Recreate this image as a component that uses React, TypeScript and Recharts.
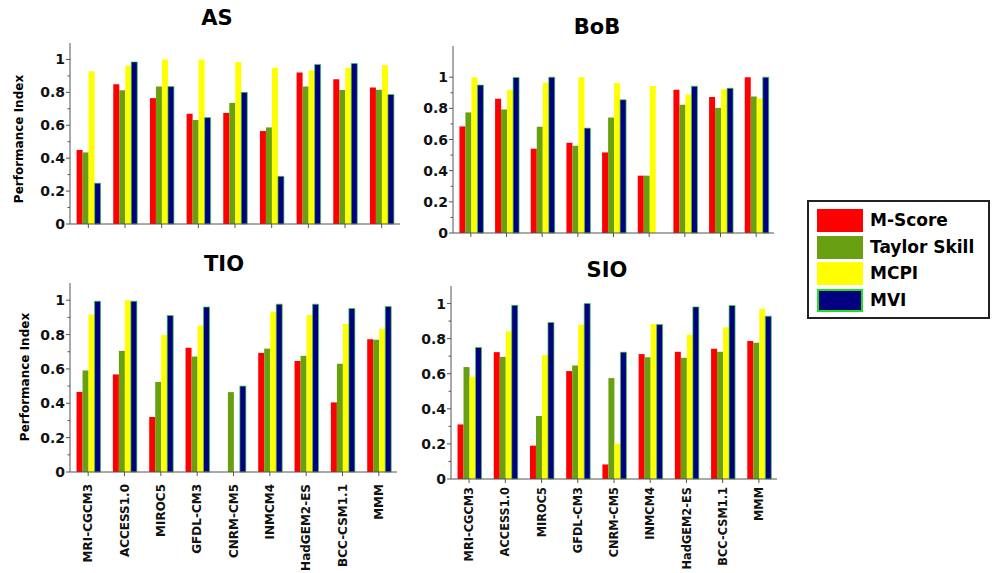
import { Bar, BarChart, XAxis, YAxis } from "recharts";

const MODELS = [
  "MRI-CGCM3",
  "ACCESS1.0",
  "MIROC5",
  "GFDL-CM3",
  "CNRM-CM5",
  "INMCM4",
  "HadGEM2-ES",
  "BCC-CSM1.1",
  "MMM",
];

const AS_MSCORE = [0.45, 0.85, 0.765, 0.67, 0.675, 0.565, 0.92, 0.88, 0.83];
const AS_TAYLOR = [0.435, 0.813, 0.835, 0.632, 0.736, 0.587, 0.836, 0.814, 0.816];
const AS_MCPI = [0.928, 0.961, 1.0, 1.0, 0.984, 0.95, 0.933, 0.949, 0.965];
const AS_MVI = [0.248, 0.985, 0.835, 0.647, 0.8, 0.29, 0.97, 0.975, 0.787];

const BOB_MSCORE = [0.684, 0.861, 0.541, 0.579, 0.517, 0.368, 0.919, 0.872, 1.0];
const BOB_TAYLOR = [0.774, 0.793, 0.682, 0.56, 0.741, 0.368, 0.823, 0.803, 0.876];
const BOB_MCPI = [1.0, 0.919, 0.964, 1.0, 0.962, 0.944, 0.889, 0.923, 0.863];
const BOB_MVI = [0.949, 0.998, 1.0, 0.673, 0.855, null, 0.942, 0.929, 1.0];

const TIO_MSCORE = [0.466, 0.568, 0.32, 0.723, null, 0.693, 0.646, 0.405, 0.772];
const TIO_TAYLOR = [0.591, 0.705, 0.524, 0.672, 0.465, 0.718, 0.676, 0.63, 0.77];
const TIO_MCPI = [0.917, 1.0, 0.798, 0.852, null, 0.933, 0.914, 0.861, 0.834];
const TIO_MVI = [0.994, 0.994, 0.911, 0.96, 0.5, 0.977, 0.977, 0.952, 0.963];

const SIO_MSCORE = [0.311, 0.723, 0.19, 0.615, 0.083, 0.712, 0.725, 0.742, 0.786];
const SIO_TAYLOR = [0.638, 0.696, 0.359, 0.647, 0.575, 0.694, 0.691, 0.725, 0.776];
const SIO_MCPI = [0.583, 0.842, 0.706, 0.879, 0.201, 0.884, 0.822, 0.865, 0.97];
const SIO_MVI = [0.75, 0.99, 0.892, 1.0, 0.723, 0.88, 0.981, 0.989, 0.928];

const Y_TICKS = [0, 0.1, 0.2, 0.3, 0.4, 0.5, 0.6, 0.7, 0.8, 0.9, 1.0];

const SERIES = [
  { key: "mscore", name: "M-Score", color: "#ff0000", edge: "none" },
  { key: "taylor", name: "Taylor Skill", color: "#68a012", edge: "none" },
  { key: "mcpi", name: "MCPI", color: "#ffff00", edge: "none" },
  { key: "mvi", name: "MVI", color: "#000080", edge: "#3fcf3f" },
];

const FONT = "'DejaVu Sans', Verdana, sans-serif";
const AXIS_COLOR = "#555";
const BOX_COLOR = "#808080";

function rows(m: (number | null)[], t: (number | null)[], c: (number | null)[], v: (number | null)[]) {
  return MODELS.map((model, i) => ({ model, mscore: m[i], taylor: t[i], mcpi: c[i], mvi: v[i] }));
}

function YTick(props: any) {
  const { x, y, payload } = props;
  const v = Number(payload.value);
  const major = Math.round(v * 10) % 2 === 0;
  return (
    <g>
      <line x1={x - (major ? 4 : 2.5)} x2={x} y1={y} y2={y} stroke={AXIS_COLOR} />
      {major && (
        <text
          x={x - 5}
          y={y}
          dy="0.36em"
          textAnchor="end"
          fontFamily={FONT}
          fontWeight="bold"
          fontSize={14}
          fill="#111"
        >
          {Number(v.toFixed(1)).toString()}
        </text>
      )}
    </g>
  );
}

function XTick(props: any) {
  const { x, y, payload, showLabel, gap, size } = props;
  const ly = y + gap;
  return (
    <g>
      <line x1={x} x2={x} y1={y} y2={y + 4} stroke={AXIS_COLOR} />
      {showLabel && (
        <text
          x={x}
          y={ly}
          dy="0.36em"
          textAnchor="end"
          transform={`rotate(-90 ${x} ${ly})`}
          fontFamily={FONT}
          fontWeight="bold"
          fontSize={size}
          fill="#111"
        >
          {payload.value}
        </text>
      )}
    </g>
  );
}

type PanelProps = {
  data: any[];
  left: number;
  top: number;
  width: number;
  height: number;
  marginTop: number;
  marginRight: number;
  yWidth: number;
  xHeight: number;
  yMax: number;
  showLabels: boolean;
  labelGap?: number;
  labelSize?: number;
};

function Panel(p: PanelProps) {
  return (
    <div style={{ position: "absolute", left: p.left, top: p.top }}>
      <BarChart
        width={p.width}
        height={p.height}
        data={p.data}
        margin={{ top: p.marginTop, right: p.marginRight, bottom: 0, left: 0 }}
        barCategoryGap="18%"
        barGap={0}
      >
        <XAxis
          dataKey="model"
          interval={0}
          height={p.xHeight}
          tickLine={false}
          tickSize={0}
          tickMargin={0}
          axisLine={{ stroke: AXIS_COLOR }}
          tick={<XTick showLabel={p.showLabels} gap={p.labelGap ?? 12} size={p.labelSize ?? 12} />}
        />
        <XAxis
          xAxisId="top"
          orientation="top"
          dataKey="model"
          height={0}
          tick={false}
          tickLine={false}
          axisLine={{ stroke: BOX_COLOR }}
        />
        <YAxis
          width={p.yWidth}
          domain={[0, p.yMax]}
          ticks={Y_TICKS}
          interval={0}
          tickLine={false}
          tickSize={0}
          tickMargin={0}
          axisLine={{ stroke: AXIS_COLOR }}
          tick={<YTick />}
        />
        <YAxis
          yAxisId="right"
          orientation="right"
          width={0}
          domain={[0, p.yMax]}
          tick={false}
          tickLine={false}
          axisLine={{ stroke: BOX_COLOR }}
        />
        {SERIES.map((s) => (
          <Bar
            key={s.key}
            dataKey={s.key}
            fill={s.color}
            stroke={s.edge}
            strokeWidth={s.edge === "none" ? 0 : 0.7}
            isAnimationActive={false}
          />
        ))}
      </BarChart>
    </div>
  );
}

function Title({ text, cx, capTop }: { text: string; cx: number; capTop: number }) {
  return (
    <div
      style={{
        position: "absolute",
        left: cx,
        top: capTop - 3,
        transform: "translateX(-50%)",
        fontFamily: FONT,
        fontWeight: "bold",
        fontSize: 21,
        lineHeight: "21px",
        whiteSpace: "nowrap",
        color: "#000",
      }}
    >
      {text}
    </div>
  );
}

function AxisTitle({ cx, cy }: { cx: number; cy: number }) {
  return (
    <div
      style={{
        position: "absolute",
        left: cx,
        top: cy,
        transform: "translate(-50%, -50%) rotate(-90deg)",
        fontFamily: FONT,
        fontWeight: "bold",
        fontSize: 12,
        lineHeight: "12px",
        whiteSpace: "nowrap",
        color: "#000",
      }}
    >
      Performance Index
    </div>
  );
}

function Legend() {
  return (
    <div
      style={{
        position: "absolute",
        left: 807,
        top: 200,
        width: 179,
        height: 115,
        border: "2px solid #222",
        background: "#fff",
      }}
    >
      {SERIES.map((s, i) => (
        <div
          key={s.key}
          style={{ position: "absolute", left: 8, top: 7 + i * 26.5, display: "flex", alignItems: "center" }}
        >
          <div
            style={{
              width: s.edge === "none" ? 46 : 42,
              height: s.edge === "none" ? 23 : 19,
              background: s.color,
              border: s.edge === "none" ? "none" : "2px solid #22dd22",
            }}
          />
          <span
            style={{
              marginLeft: 7,
              fontFamily: FONT,
              fontWeight: "bold",
              fontSize: 17,
              lineHeight: "23px",
              color: "#000",
              whiteSpace: "nowrap",
            }}
          >
            {s.name}
          </span>
        </div>
      ))}
    </div>
  );
}

export default function App() {
  return (
    <div
      style={{
        position: "absolute",
        left: 0,
        top: 0,
        width: 992,
        height: 573,
        background: "#fff",
        overflow: "hidden",
      }}
    >
      <Panel
        data={rows(AS_MSCORE, AS_TAYLOR, AS_MCPI, AS_MVI)}
        left={0}
        top={0}
        width={410}
        height={240}
        marginTop={43}
        marginRight={10}
        yWidth={70}
        xHeight={16}
        yMax={1.1}
        showLabels={false}
      />
      <Panel
        data={rows(BOB_MSCORE, BOB_TAYLOR, BOB_MCPI, BOB_MVI)}
        left={400}
        top={0}
        width={380}
        height={250}
        marginTop={46}
        marginRight={6}
        yWidth={53}
        xHeight={17}
        yMax={1.2}
        showLabels={false}
      />
      <Panel
        data={rows(TIO_MSCORE, TIO_TAYLOR, TIO_MCPI, TIO_MVI)}
        left={0}
        top={240}
        width={410}
        height={333}
        marginTop={43}
        marginRight={13}
        yWidth={70}
        xHeight={101}
        yMax={1.1}
        showLabels={true}
      />
      <Panel
        data={rows(SIO_MSCORE, SIO_TAYLOR, SIO_MCPI, SIO_MVI)}
        left={400}
        top={250}
        width={390}
        height={323}
        marginTop={36}
        marginRight={13}
        yWidth={51}
        xHeight={94}
        yMax={1.1}
        showLabels={true}
        labelGap={8}
        labelSize={11.4}
      />
      <Title text="AS" cx={217} capTop={11} />
      <Title text="BoB" cx={597} capTop={20} />
      <Title text="TIO" cx={224} capTop={257} />
      <Title text="SIO" cx={607} capTop={263} />
      <AxisTitle cx={19} cy={139} />
      <AxisTitle cx={25} cy={377} />
      <Legend />
    </div>
  );
}
